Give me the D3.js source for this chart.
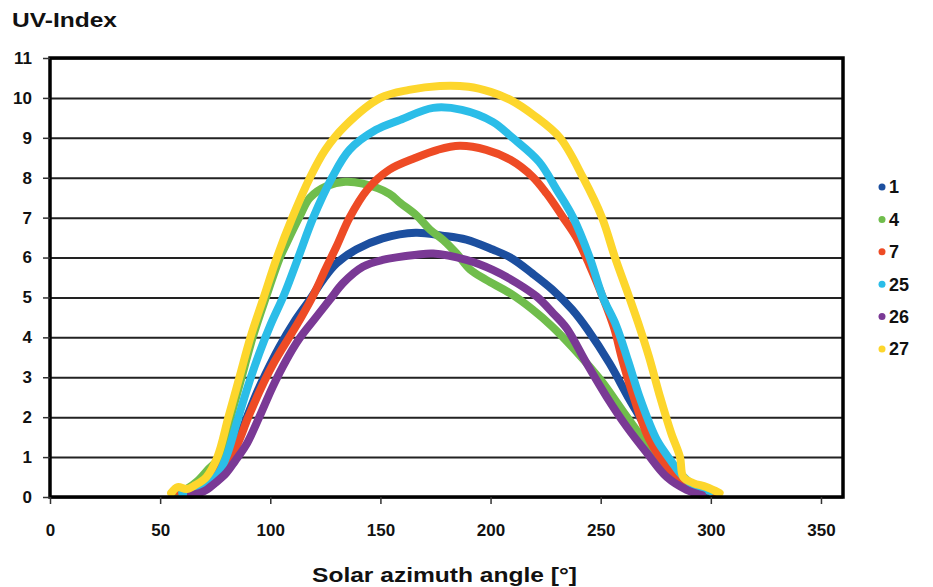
<!DOCTYPE html>
<html>
<head>
<meta charset="utf-8">
<script src="https://cdn.jsdelivr.net/npm/d3@7"></script>
<style>
  body { margin: 0; background: #fff; }
  svg { display: block; font-family: "Liberation Sans", Arial, sans-serif; font-weight: bold; }
</style>
</head>
<body>
<div id="chart"></div>
<script>
// x ticks / y ticks
const xTicks = [0, 50, 100, 150, 200, 250, 300, 350];
const yTicks = [0, 1, 2, 3, 4, 5, 6, 7, 8, 9, 10, 11];

// each series: [solar azimuth, UV-index]
const day1 = [[62,0.1],[70,0.3],[77,0.6],[83,1.1],[88,1.8],[93,2.5],[98,3.1],[104,3.75],[111,4.4],[118,4.95],[124,5.45],[130,5.85],[139,6.2],[151,6.48],[166,6.62],[178,6.55],[189,6.45],[201,6.2],[209,6.0],[219,5.6],[228,5.2],[237,4.7],[244,4.2],[254,3.35],[263,2.45],[271,1.7],[278,1.0],[284,0.5],[290,0.25],[298,0.1]];
const day4 = [[57,0.1],[62,0.2],[67,0.4],[72,0.7],[77,1.0],[82,2.0],[87,3.0],[92,4.0],[98,5.0],[104.4,6.0],[107.4,6.36],[113.5,7.05],[118,7.5],[126,7.8],[134,7.9],[142,7.85],[154,7.6],[159,7.37],[166.5,7.05],[172.5,6.7],[178.5,6.44],[184.6,6.1],[190.7,5.7],[198,5.44],[209,5.1],[219,4.7],[228,4.27],[238,3.7],[250,2.93],[262,2.0],[274,1.1],[281.5,0.6],[288,0.3],[295,0.1]];
const day7 = [[58,0.15],[64,0.2],[70,0.3],[77,0.7],[84,1.2],[90,2.0],[96,2.75],[102,3.4],[108,3.95],[114,4.5],[119.5,5.05],[125,5.7],[130,6.27],[136,7.0],[144,7.7],[154,8.2],[166,8.5],[176,8.7],[186,8.8],[198,8.7],[209,8.45],[219,8.03],[225.5,7.6],[233,7.0],[239,6.5],[245,5.8],[251,5.0],[256,4.25],[260,3.4],[265,2.5],[272,1.45],[281,0.7],[288,0.35],[296,0.2],[303,0.1]];
const day25 = [[60,0.1],[65,0.15],[70,0.3],[76,0.55],[80,1.0],[85,1.9],[90,2.8],[95,3.6],[100,4.3],[106.5,5.1],[112.7,6.0],[119.5,7.0],[128,8.0],[136,8.7],[148,9.2],[159,9.45],[174,9.75],[187,9.7],[201,9.4],[210,9.0],[222,8.4],[230,7.7],[237.5,7.0],[245,6.0],[251,5.0],[257,4.3],[262.5,3.4],[268,2.45],[275.5,1.43],[282,0.9],[286,0.6],[292,0.3],[300,0.15]];
const day26 = [[64,0.05],[68,0.1],[71,0.18],[75,0.35],[80,0.6],[84,0.9],[89,1.3],[95,2.0],[101,2.75],[107,3.4],[113,3.95],[120,4.45],[127,4.94],[133,5.36],[142,5.77],[151,5.94],[166.5,6.07],[174,6.1],[189,5.94],[201,5.69],[212,5.36],[221,5.02],[228.5,4.6],[234.5,4.23],[243.6,3.35],[252.7,2.51],[261.8,1.76],[271,1.1],[280,0.5],[289,0.18],[296,0.05]];
const day27 = [[55,0.1],[58,0.25],[62,0.2],[66,0.3],[71,0.5],[76,1.0],[81,2.0],[86,3.0],[91,4.0],[97,5.0],[103,6.0],[110,7.0],[118,8.0],[125,8.7],[134,9.3],[150,10.0],[163,10.2],[177,10.3],[190,10.28],[200,10.15],[209,9.95],[220,9.55],[231.5,9.0],[242,8.0],[250.6,7.0],[256.5,6.0],[263,5.0],[268,4.2],[272,3.5],[277,2.5],[282,1.6],[286,1.0],[287.5,0.5],[292,0.35],[298,0.25],[304,0.1]];

const seriesNames = ["1", "4", "7", "25", "26", "27"];
const seriesData = [day1, day4, day7, day25, day26, day27];
const colors = ["#1c4f9f", "#70bd4c", "#ee4b25", "#2bbde8", "#7a3995", "#fdd62c"];

const W = 933, H = 587;
const plotL = 50, plotR = 843, plotT = 58, plotB = 497;

const svg = d3.select("#chart").append("svg")
    .attr("width", W)
    .attr("height", H);

const x = d3.scaleLinear().domain([0, 360]).range([plotL, plotR]);
const y = d3.scaleLinear().domain([0, 11]).range([plotB, plotT]);

// gridlines
svg.append("g")
    .attr("transform", "translate(" + plotL + ",0)")
    .call(d3.axisLeft(y).tickValues(yTicks).tickSize(-(plotR - plotL)).tickFormat(""))
    .call(g => g.select(".domain").remove())
    .call(g => g.selectAll("line").attr("stroke", "#222").attr("stroke-width", 2));

// data lines (Excel draws later series on top)
const line = d3.line()
    .x(d => x(d[0]))
    .y(d => y(d[1]))
    .curve(d3.curveCatmullRom);

svg.append("g")
    .selectAll("path")
    .data(seriesData)
    .enter()
    .append("path")
    .attr("d", line)
    .attr("fill", "none")
    .attr("stroke", (d, i) => colors[i])
    .attr("stroke-width", 8)
    .attr("stroke-linecap", "round")
    .attr("stroke-linejoin", "round");

// frame
svg.append("rect")
    .attr("x", plotL).attr("y", plotT)
    .attr("width", plotR - plotL).attr("height", plotB - plotT)
    .attr("fill", "none").attr("stroke", "#000").attr("stroke-width", 3.5);

// x axis
const xAxis = svg.append("g")
    .attr("transform", "translate(0," + plotB + ")")
    .call(d3.axisBottom(x).tickValues(xTicks).tickSize(7).tickPadding(20));
xAxis.select(".domain").remove();
xAxis.selectAll("line").attr("stroke", "#333").attr("stroke-width", 1.5);
xAxis.selectAll("text").attr("font-size", 17).attr("font-weight", "bold")
    .attr("font-family", "'Liberation Sans', Arial, sans-serif").attr("fill", "#111");

// y axis
const yAxis = svg.append("g")
    .attr("transform", "translate(" + plotL + ",0)")
    .call(d3.axisLeft(y).tickValues(yTicks).tickSize(7).tickPadding(11));
yAxis.select(".domain").remove();
yAxis.selectAll("line").attr("stroke", "#333").attr("stroke-width", 1.5);
yAxis.selectAll("text").attr("font-size", 17).attr("font-weight", "bold")
    .attr("font-family", "'Liberation Sans', Arial, sans-serif").attr("fill", "#111");

// titles
svg.append("text")
    .attr("x", 12).attr("y", 27)
    .attr("font-size", 20)
    .attr("textLength", 105)
    .attr("lengthAdjust", "spacingAndGlyphs")
    .attr("fill", "#111")
    .text("UV-Index");

svg.append("text")
    .attr("x", 312).attr("y", 582)
    .attr("font-size", 21)
    .attr("textLength", 265)
    .attr("lengthAdjust", "spacingAndGlyphs")
    .attr("fill", "#111")
    .text("Solar azimuth angle [°]");

// legend
const legend = svg.append("g")
    .selectAll("g")
    .data(seriesNames)
    .enter()
    .append("g")
    .attr("transform", (d, i) => "translate(882," + (187 + i * 32.4) + ")");

legend.append("circle")
    .attr("r", 3.5)
    .attr("fill", (d, i) => colors[i]);

legend.append("text")
    .attr("x", 7).attr("dy", "0.36em")
    .attr("font-size", 18)
    .attr("fill", "#111")
    .text(d => d);
</script>
</body>
</html>
